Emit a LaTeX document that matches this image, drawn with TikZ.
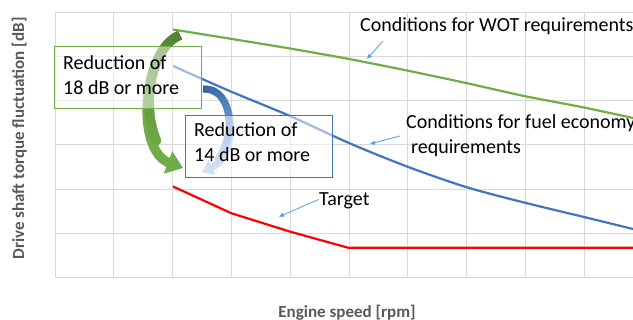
\documentclass[tikz,border=0pt]{standalone}
\usepackage{fontspec}
\setmainfont{Carlito}
\usetikzlibrary{arrows.meta,decorations.markings}
\definecolor{gridc}{HTML}{D9D9D9}
\definecolor{wotgreen}{HTML}{70AD47}
\definecolor{fuelblue}{HTML}{4472C4}
\definecolor{callout}{HTML}{5B9BD5}
\definecolor{axislabel}{HTML}{595959}
\definecolor{garrowtop}{HTML}{548235}
\definecolor{barrowtop}{HTML}{2E64A0}
\definecolor{barrowbot}{HTML}{9DC3E6}
\definecolor{targetred}{HTML}{FF0000}
\begin{document}
\begin{tikzpicture}[x=1pt,y=-1pt,
  gridline/.style={draw=gridc, line width=0.9pt},
  series/.style={line width=2.2pt, line join=round},
  lbl/.style={font=\fontsize{20}{26}\selectfont, inner sep=0pt, anchor=base west},
  pointer/.style={draw=callout, line width=0.8pt, -{Triangle[length=5pt,width=4pt]}},
  axistitle/.style={font=\fontsize{17}{20}\selectfont\bfseries, text=axislabel, inner sep=0pt, anchor=base},
  reducebox/.style={fill=white, fill opacity=0.5, line width=0.9pt, inner sep=0pt, anchor=north west},
  sample/.style={decorate, decoration={markings, mark=between positions 0 and 1 step 0.05 with {\coordinate (#1\pgfkeysvalueof{/pgf/decoration/mark info/sequence number});}}}
]
\useasboundingbox (0,0) rectangle (633,320);
% grid
\foreach \k in {0,...,9} \draw[gridline] ({55+58.8*\k},12.3) -- ({55+58.8*\k},277.5);
\foreach \j in {0,...,6} \draw[gridline] (55,{12.3+44.2*\j}) -- (633,{12.3+44.2*\j});
% data series
\draw[series, wotgreen] plot[smooth, tension=0.4] coordinates {(173,29.5) (232,39) (290,48.5) (349,59) (407,70.5) (466,83) (524,96) (584,107.5) (633,118)};
\draw[series, fuelblue] plot[smooth, tension=0.5] coordinates {(173,66) (232,92) (290,116) (349,143) (407,166.5) (466,187) (524,202.5) (584,217) (633,229)};
\draw[series, targetred, line join=miter] (173,186.5) -- (231.5,213.3) -- (290.3,231.7) -- (348,247.7) -- (633,247.7);
% green curved arrow
\path[sample=ga] (180,35) .. controls (142,50) and (135,150) .. (183,168);
\draw[line width=9.5pt, wotgreen, -{Triangle[length=16pt,width=23pt]}] (180,35) .. controls (142,50) and (135,150) .. (183,168);
\draw[line width=9.5pt, garrowtop] (ga1) -- (ga2);
\foreach \i [evaluate=\i as \j using int(\i+1), evaluate=\i as \p using int(100-6*(\i-1))] in {2,...,15}
  \draw[line width=9.5pt, garrowtop!\p!wotgreen, line cap=round] (ga\i) -- (ga\j);
% blue curved arrow
\path[sample=ba] (203,89) .. controls (238,87) and (238,156) .. (202,172);
\draw[line width=7pt, barrowbot, -{Triangle[length=11pt,width=16pt]}] (203,89) .. controls (238,87) and (238,156) .. (202,172);
\draw[line width=7pt, barrowtop] (ba1) -- (ba2);
\foreach \i [evaluate=\i as \j using int(\i+1), evaluate=\i as \p using int(100-6*(\i-1))] in {2,...,16}
  \draw[line width=7pt, barrowtop!\p!barrowbot, line cap=round] (ba\i) -- (ba\j);
% boxes
\node[reducebox, draw=wotgreen, minimum width=146.7pt, minimum height=62.6pt] (box18) at (54,45.7) {};
\node[reducebox, draw=fuelblue, minimum width=147pt, minimum height=62.6pt] (box14) at (185,114.7) {};
% texts
\node[lbl] (r18a) at (63,70) {Reduction of};
\node[lbl] (r18b) at (63,95) {18 dB or more};
\node[lbl] (r14a) at (194,136.7) {Reduction of};
\node[lbl] (r14b) at (194,161.7) {14 dB or more};
\node[lbl] (wot) at (360,31.7) {Conditions for WOT requirements};
\node[lbl] (fuel1) at (406,128.3) {Conditions for fuel economy};
\node[lbl] (fuel2) at (411,153.3) {requirements};
\node[lbl] (target) at (319,205.7) {Target};
% pointers
\coordinate (wotS) at (383,41); \coordinate (wotE) at (367,59);
\coordinate (fuelS) at (400,136); \coordinate (fuelE) at (370,144);
\coordinate (tgtS) at (318.5,199.5); \coordinate (tgtE) at (279,216.7);
\draw[pointer] (wotS) -- (wotE);
\draw[pointer] (fuelS) -- (fuelE);
\draw[pointer] (tgtS) -- (tgtE);
% axis titles
\node[axistitle, rotate=90] (ytitle) at (24,138.5) {Drive shaft torque fluctuation [dB]};
\node[axistitle] (xtitle) at (347,318) {Engine speed [rpm]};
\end{tikzpicture}
\end{document}
